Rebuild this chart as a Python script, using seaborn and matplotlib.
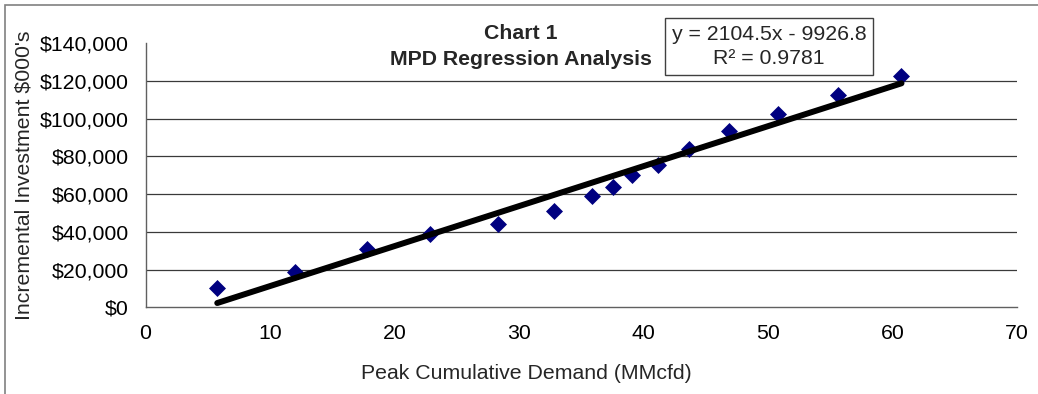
import numpy as np
import pandas as pd
import matplotlib
matplotlib.use("Agg")
import matplotlib.pyplot as plt
import seaborn as sns
from matplotlib.patches import Rectangle
from matplotlib.ticker import StrMethodFormatter

# plain white look, like the excel chart
sns.set_style("white")
plt.rcParams['font.family'] = ['Liberation Sans', 'DejaVu Sans']

# data
demand = [5.76, 12.04, 17.82, 22.87, 28.35, 32.8, 35.89, 37.55,
          39.07, 41.2, 43.67, 46.87, 50.83, 55.59, 60.72]
investment = [10100, 18500, 30800, 38600, 43900, 51000, 59000, 63500,
              70000, 75400, 83900, 93300, 102600, 112300, 122700]

equation_text = "y = 2104.5x - 9926.8\nR² = 0.9781"
title_text = "Chart 1\nMPD Regression Analysis"

df = pd.DataFrame({"demand": demand, "investment": investment})

fig = plt.figure(figsize=(10.38, 3.94), dpi=100)
ax = fig.add_axes([0.1402, 0.22, 0.8396, 0.6709])

sns.regplot(
    data=df,
    x="demand",
    y="investment",
    ci=None,
    ax=ax,
    marker="D",
    scatter_kws={"s": 75, "color": "#000080", "alpha": 1, "linewidths": 0},
    line_kws={"color": "black", "lw": 4.3, "solid_capstyle": "round"},
)

ax.set_xlim(0, 70)
ax.set_ylim(0, 140000)
ax.set_xticks(range(0, 71, 10))
ax.set_yticks(range(0, 140001, 20000))
ax.yaxis.set_major_formatter(StrMethodFormatter("${x:,.0f}"))

# horizontal gridlines (no line at the top)
for g in range(20000, 140000, 20000):
    ax.axhline(g, color="#3a3a3a", lw=0.9, zorder=0)

for side in ["top", "right"]:
    ax.spines[side].set_visible(False)
for side in ["left", "bottom"]:
    ax.spines[side].set_color("#606060")
    ax.spines[side].set_linewidth(1)

ax.tick_params(axis="both", direction="out", length=5, width=1,
               color="#606060", labelsize=15.3, labelcolor="black")
ax.tick_params(axis="y", pad=7)
ax.tick_params(axis="x", pad=7)

ax.set_xlabel("Peak Cumulative Demand (MMcfd)", fontsize=15.3)
ax.xaxis.set_label_coords(0.4366, -0.2486)
ax.xaxis.label.set_va("center")
ax.set_ylabel("Incremental Investment $000's", fontsize=15.3)
ax.yaxis.set_label_coords(-0.1395, 0.50)
ax.yaxis.label.set_va("center")

fig.text(521 / 1038, 1 - 46.5 / 394, title_text, ha="center", va="center",
         fontsize=15.3, fontweight="bold", linespacing=1.45)

fig.text(769 / 1038, 1 - 46.5 / 394, equation_text, ha="center", va="center",
         fontsize=15.3, linespacing=1.38,
         bbox=dict(boxstyle="square,pad=0.3", fc="white", ec="#404040", lw=1))

# chart area border (only top and left show)
fig.add_artist(Rectangle((5 / 1038, -0.1), 1.2, 1 - 5 / 394 + 0.1,
                         transform=fig.transFigure, fill=False,
                         ec="#808080", lw=1.2))

fig.savefig("out.png", dpi=100)
